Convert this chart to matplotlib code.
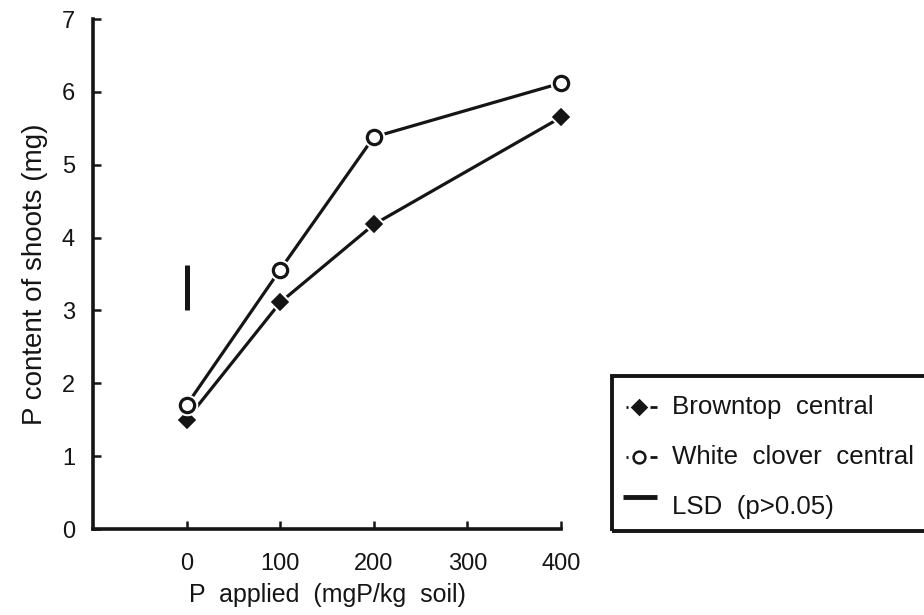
import matplotlib
matplotlib.use("Agg")
import matplotlib.pyplot as plt
from matplotlib.lines import Line2D
from matplotlib.patches import Rectangle

plt.rcParams['font.family'] = ['Liberation Sans', 'DejaVu Sans']

# P applied (mgP/kg soil)
p_applied = [0, 100, 200, 400]
# P content of shoots (mg)
browntop = [1.50, 3.11, 4.18, 5.65]
white_clover = [1.70, 3.56, 5.38, 6.12]
# LSD bar (p>0.05)
lsd_x = 0
lsd_low, lsd_high = 3.0, 3.63

x_ticks = [0, 100, 200, 300, 400]
y_ticks = [0, 1, 2, 3, 4, 5, 6, 7]

W, H = 924, 615
INK = '#151515'

fig = plt.figure(figsize=(W / 100, H / 100), dpi=100)
fig.patch.set_facecolor('white')


def fx(px):
    return px / W


def fy(py):
    return 1 - py / H


ax = fig.add_axes([fx(93), fy(529), fx(561) - fx(93), fy(19) - fy(529)])
ax.set_xlim(-100, 400)
ax.set_ylim(0, 7)
for side in ('top', 'right'):
    ax.spines[side].set_visible(False)
for side in ('left', 'bottom'):
    ax.spines[side].set_linewidth(2.6)
    ax.spines[side].set_color(INK)
    ax.spines[side].set_capstyle('projecting')

ax.set_xticks(x_ticks)
ax.set_yticks(y_ticks)
ax.tick_params(direction='in', length=5.5, width=1.8, color=INK,
               labelsize=17, labelcolor=INK)
ax.tick_params(axis='x', pad=17)
ax.tick_params(axis='y', pad=13)

ax.set_xlabel('P  applied  (mgP/kg  soil)', fontsize=18, color=INK, labelpad=6)
ax.set_ylabel('P content of shoots (mg)', fontsize=20, color=INK, labelpad=10)

# connecting lines
ax.plot(p_applied, browntop, color=INK, lw=2.3, zorder=2, clip_on=False)
ax.plot(p_applied, white_clover, color=INK, lw=2.3, zorder=2, clip_on=False)

# white halos leave a small gap between lines and markers
ax.plot(p_applied, browntop, ls='none', marker='D', ms=11, mfc='white',
        mec='white', zorder=3, clip_on=False)
ax.plot(p_applied, browntop, ls='none', marker='D', ms=8.2, mfc=INK,
        mec=INK, mew=1.2, zorder=4, clip_on=False)
ax.plot(p_applied, white_clover, ls='none', marker='o', ms=14.5, mfc='white',
        mec='white', zorder=5, clip_on=False)
ax.plot(p_applied, white_clover, ls='none', marker='o', ms=10.3, mfc='white',
        mec=INK, mew=2.3, zorder=6, clip_on=False)

# LSD bar
ax.plot([lsd_x, lsd_x], [lsd_low, lsd_high], color=INK, lw=3.6,
        solid_capstyle='butt', zorder=2)

# legend box, running off the right edge
fig.patches.append(Rectangle((fx(612), fy(531)), fx(960) - fx(612),
                             fy(376) - fy(531), transform=fig.transFigure,
                             fill=False, lw=2.8, edgecolor=INK))

legend_rows = [
    ('Browntop  central', 407, 'D', INK, 7.5),
    ('White  clover  central', 457, 'o', 'white', 8.5),
]
for label, yrow, mk, face, ms in legend_rows:
    fig.add_artist(Line2D([fx(625.5), fx(628)], [fy(yrow), fy(yrow)],
                          transform=fig.transFigure, color=INK, lw=2,
                          solid_capstyle='butt'))
    fig.add_artist(Line2D([fx(650), fx(657)], [fy(yrow), fy(yrow)],
                          transform=fig.transFigure, color=INK, lw=2,
                          solid_capstyle='butt'))
    fig.add_artist(Line2D([fx(639)], [fy(yrow)], transform=fig.transFigure,
                          ls='none', marker=mk, ms=ms, mfc=face, mec=INK,
                          mew=1.8))
    fig.text(fx(672), fy(yrow), label, fontsize=18.6, color=INK, va='center')

fig.add_artist(Line2D([fx(623), fx(657)], [fy(497), fy(497)],
                      transform=fig.transFigure, color=INK, lw=3.5,
                      solid_capstyle='butt'))
fig.text(fx(672), fy(507), 'LSD  (p>0.05)', fontsize=18.6, color=INK,
         va='center')

fig.savefig('out.png', dpi=100, facecolor='white')
